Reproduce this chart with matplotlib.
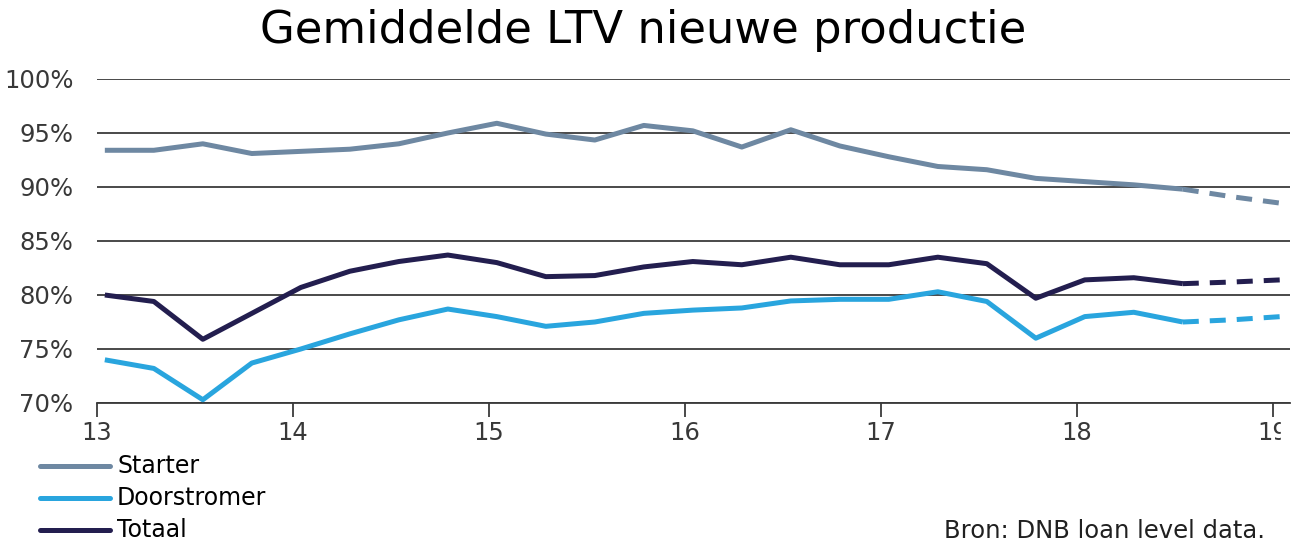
import matplotlib
matplotlib.use("Agg")
from matplotlib import pyplot as plt

# quarterly observations, x in years (13 = 2013)
quarters = [13.04 + 0.25 * k for k in range(25)]
n_solid = 23  # last solid point is index 22, rest is a forecast

starter = [93.4, 93.4, 94.0, 93.1, 93.3, 93.5, 94.0, 95.0, 95.9, 94.9,
           94.35, 95.7, 95.2, 93.7, 95.3, 93.8, 92.8, 91.9, 91.6, 90.8,
           90.5, 90.2, 89.8, 89.1, 88.5]
doorstromer = [74.0, 73.2, 70.3, 73.7, 75.0, 76.4, 77.7, 78.7, 78.0, 77.1,
               77.5, 78.3, 78.6, 78.8, 79.45, 79.6, 79.6, 80.3, 79.4, 76.0,
               78.0, 78.4, 77.5, 77.7, 78.0]
totaal = [80.0, 79.4, 75.9, 78.3, 80.7, 82.2, 83.1, 83.7, 83.0, 81.7,
          81.8, 82.6, 83.1, 82.8, 83.5, 82.8, 82.8, 83.5, 82.9, 79.7,
          81.4, 81.6, 81.05, 81.2, 81.4]

series = [("Starter", starter, "#6e88a2"),
          ("Doorstromer", doorstromer, "#29a5de"),
          ("Totaal", totaal, "#231e4f")]

year_ticks = [13, 14, 15, 16, 17, 18, 19]
y_ticks = [70, 75, 80, 85, 90, 95, 100]

fig = plt.figure(figsize=(12.99, 5.55), dpi=100)
ax = fig.add_axes([97 / 1299, 1 - 403 / 555, (1290 - 97) / 1299, (403 - 79) / 555])

for name, vals, col in series:
    ax.plot(quarters[:n_solid], vals[:n_solid], color=col, lw=3.6,
            solid_capstyle="butt", zorder=3)
    ax.plot(quarters[n_solid - 1:], vals[n_solid - 1:], color=col, lw=3.6,
            linestyle=(0, (3.2, 2.2)), zorder=3)

ax.set_xlim(13, 19.087)
ax.set_ylim(70, 100)
ax.set_yticks(y_ticks)
ax.set_yticklabels([f"{v}%" for v in y_ticks])
ax.set_xticks(year_ticks)
ax.set_xticklabels([str(t) for t in year_ticks])
ax.grid(axis="y", color="#3a3a3a", lw=1.3, zorder=1)
ax.set_axisbelow(True)

for side in ["left", "right", "top"]:
    ax.spines[side].set_visible(False)
ax.spines["bottom"].set_color("#3a3a3a")
ax.spines["bottom"].set_linewidth(1.3)
ax.tick_params(axis="y", length=0, pad=17, labelsize=17.5, labelcolor="#383838")
ax.tick_params(axis="x", length=10, width=1.3, color="#3a3a3a", pad=3,
               labelsize=17.5, labelcolor="#383838")

# the reference crops the last year label at the right edge
fig.add_artist(plt.Rectangle((1281 / 1299, 1 - 445 / 555), 18 / 1299, 30 / 555,
                             transform=fig.transFigure, color="white", zorder=10))

fig.text(643 / 1299, 1 - 31 / 555, "Gemiddelde LTV nieuwe productie",
         ha="center", va="center", fontsize=32.3, color="black")

# legend drawn by hand below the axes
leg_y = [466, 498, 530]
for (name, vals, col), yy in zip(series, leg_y):
    fy = 1 - yy / 555
    fig.add_artist(plt.Line2D([40 / 1299, 110 / 1299], [fy, fy], color=col,
                              lw=3.6, solid_capstyle="round"))
    fig.text(117 / 1299, fy, name, ha="left", va="center", fontsize=17, color="black")

fig.text(1265 / 1299, 1 - 531 / 555, "Bron: DNB loan level data.",
         ha="right", va="center", fontsize=17.5, color="#202020")

fig.savefig("out.png", dpi=100)
